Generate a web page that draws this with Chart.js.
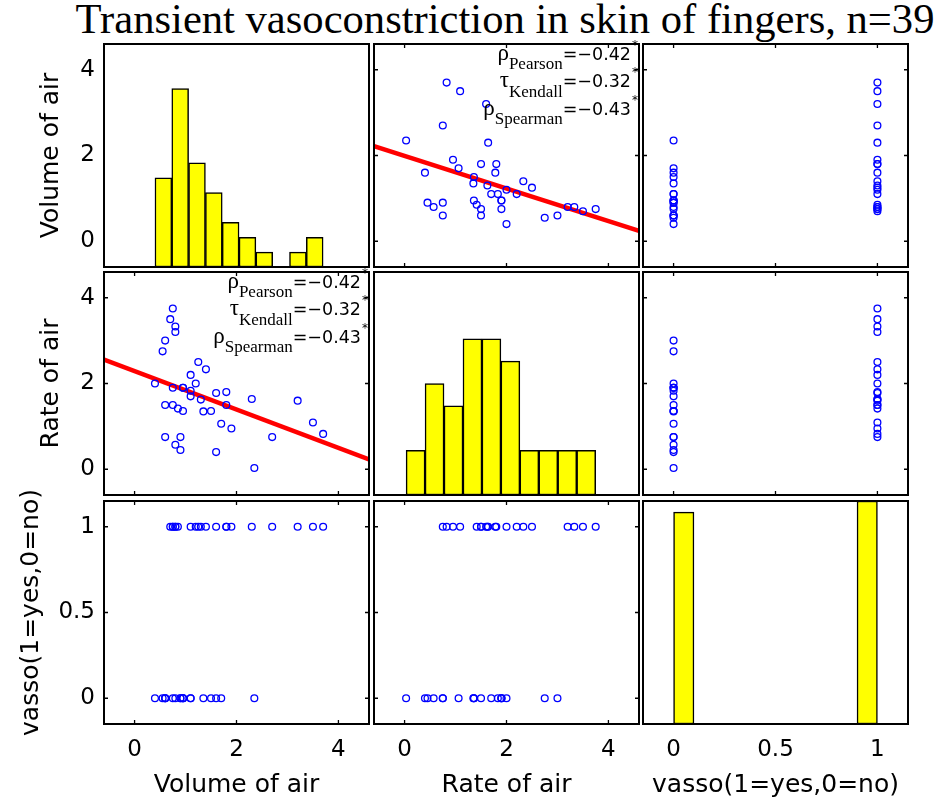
<!DOCTYPE html>
<html>
<head>
<meta charset="utf-8">
<script src="https://cdn.jsdelivr.net/npm/chart.js@4/dist/chart.umd.min.js"></script>
<style>
  html, body { margin: 0; padding: 0; background: #fff; overflow: hidden; }
  #fig { position: relative; width: 944px; height: 798px; }
  #fig canvas { position: absolute; }
  #title {
    position: absolute; left: 5px; width: 1000px; top: -2px;
    text-align: center; white-space: nowrap; color: #000;
    font-family: "Liberation Serif", serif; font-size: 42.6px; line-height: 42px;
  }
</style>
</head>
<body>
<div id="fig">
  <div id="title">Transient vasoconstriction in skin of fingers, n=39</div>
</div>
<script>
// observations, one entry per subject
const volume = [3.70, 3.50, 1.25, 0.75, 0.80, 0.70, 0.60, 1.10, 0.90, 0.90, 0.80, 0.55, 0.60,
  1.40, 0.75, 2.30, 3.20, 0.85, 1.70, 1.80, 0.40, 0.95, 1.35, 1.50, 1.60, 0.60, 1.80, 0.95,
  1.90, 1.60, 2.70, 2.35, 1.10, 1.10, 1.20, 0.80, 0.95, 0.75, 1.30];
const rate = [0.825, 1.09, 2.50, 1.50, 3.20, 3.50, 0.75, 1.70, 0.75, 0.45, 0.57, 2.75, 3.00,
  2.33, 3.75, 1.64, 1.60, 1.415, 1.06, 1.80, 2.00, 1.36, 1.35, 1.36, 1.78, 1.50, 1.50, 1.90,
  0.95, 0.40, 0.75, 0.03, 1.83, 2.20, 2.00, 3.33, 1.90, 1.90, 1.625];
const vasso = [1, 1, 1, 1, 1, 1, 0, 0, 0, 0, 0, 0, 0, 1, 1, 1, 1, 1, 0, 1, 0, 0, 0, 0, 1, 0,
  1, 0, 1, 0, 1, 0, 0, 1, 1, 1, 0, 0, 1];

const varNames = ["Volume of air", "Rate of air", "vasso(1=yes,0=no)"];
const axisMin = [-0.6, -0.6, -0.15];
const axisMax = [4.6, 4.6, 1.15];
const tickValues = [[0, 2, 4], [0, 2, 4], [0, 0.5, 1]];

// histograms on the diagonal
const volBinCenters = [0.565, 0.895, 1.225, 1.555, 1.885, 2.215, 2.545, 2.875, 3.205, 3.535];
const volBinCounts = [6, 12, 7, 5, 3, 2, 1, 0, 1, 2];
const rateBinCenters = [0.216, 0.588, 0.96, 1.332, 1.704, 2.076, 2.448, 2.82, 3.192, 3.564];
const rateBinCounts = [2, 5, 4, 7, 7, 6, 2, 2, 2, 2];
const vassoBinCenters = [0.05, 0.15, 0.25, 0.35, 0.45, 0.55, 0.65, 0.75, 0.85, 0.95];
const vassoBinCounts = [19, 0, 0, 0, 0, 0, 0, 0, 0, 20];
const histMax = [15, 10, 20];

// least squares lines (end points at the axis limits)
const fitVolOnRateX = [-0.6, 4.6];
const fitVolOnRateY = [2.22, 0.24];
const fitRateOnVolX = [-0.6, 4.6];
const fitRateOnVolY = [2.56, 0.23];

const corrSymbols = ["ρ", "τ", "ρ"];
const corrNames = ["Pearson", "Kendall", "Spearman"];
const corrValues = ["=−0.42", "=−0.32", "=−0.43"];

const columns = [volume, rate, vasso];
const bins = [
  [volBinCenters, volBinCounts],
  [rateBinCenters, rateBinCounts],
  [vassoBinCenters, vassoBinCounts],
];
const fits = {
  "0,1": [fitVolOnRateX, fitVolOnRateY],
  "1,0": [fitRateOnVolX, fitRateOnVolY],
};

// figure layout
const colLeft = [104, 374, 643];
const panelW = 265;
const rowTop = [44, 272, 501];
const panelH = 223;
const M = 28;
const figH = 798;
const yTitlePad = [39, 39, 19];

const tickFont = { family: "DejaVu Sans", size: 23 };
const labelFont = { family: "DejaVu Sans", size: 25, lineHeight: 1 };

const boxPlugin = {
  id: "matlabBox",
  afterDatasetsDraw(chart, args, opts) {
    const { ctx, chartArea: a, scales } = chart;
    ctx.save();
    ctx.strokeStyle = "#000";
    if (opts.ticks) {
      const tl = 4;
      ctx.lineWidth = 1.3;
      ctx.beginPath();
      scales.x.ticks.forEach((t) => {
        const px = scales.x.getPixelForValue(t.value);
        ctx.moveTo(px, a.bottom); ctx.lineTo(px, a.bottom - tl);
        ctx.moveTo(px, a.top); ctx.lineTo(px, a.top + tl);
      });
      scales.y.ticks.forEach((t) => {
        const py = scales.y.getPixelForValue(t.value);
        ctx.moveTo(a.left, py); ctx.lineTo(a.left + tl, py);
        ctx.moveTo(a.right, py); ctx.lineTo(a.right - tl, py);
      });
      ctx.stroke();
    }
    ctx.lineWidth = 2;
    ctx.strokeRect(a.left, a.top, a.right - a.left, a.bottom - a.top);
    ctx.restore();
  },
};

const corrPlugin = {
  id: "corrText",
  afterDatasetsDraw(chart, args, opts) {
    if (!opts.show) return;
    const { ctx, chartArea: a } = chart;
    ctx.save();
    ctx.fillStyle = "#000";
    ctx.textBaseline = "alphabetic";
    ctx.textAlign = "left";
    const valFont = '17.5px "DejaVu Sans"';
    const subFont = '17px "Liberation Serif"';
    const greekFont = '23px "Liberation Serif"';
    corrValues.forEach((val, k) => {
      const base = a.top + 16 + k * 27.3;
      ctx.font = valFont;
      const wv = ctx.measureText(val).width;
      ctx.font = subFont;
      const ws = ctx.measureText(corrNames[k]).width;
      ctx.font = greekFont;
      const wg = ctx.measureText(corrSymbols[k]).width;
      const xv = a.right - 8 - wv;
      const xs = xv - ws;
      const xg = xs - wg;
      ctx.font = greekFont;
      ctx.fillText(corrSymbols[k], xg, base);
      ctx.font = subFont;
      ctx.fillText(corrNames[k], xs, base + 9.3);
      ctx.font = valFont;
      ctx.fillText(val, xv, base);
      ctx.font = '12px "DejaVu Sans"';
      ctx.fillText("*", a.right - 7, base - 11);
    });
    ctx.restore();
  },
};

function axisOptions(v, shown, isX, row) {
  const opt = {
    type: "linear",
    min: axisMin[v],
    max: axisMax[v],
    display: shown,
    offset: false,
    grid: { display: false, drawTicks: false },
    border: { display: false },
    ticks: {
      font: tickFont,
      color: "#000",
      padding: isX ? 12 : 9,
      autoSkip: false,
      maxRotation: 0,
      callback: (val) => String(val),
    },
    afterBuildTicks: (s) => {
      s.ticks = tickValues[v].map((t) => ({ value: t }));
    },
    title: {
      display: shown,
      text: varNames[v],
      font: labelFont,
      color: "#000",
      padding: isX ? { top: 0, bottom: 0 } : { top: yTitlePad[row], bottom: 0 },
    },
  };
  if (shown) {
    opt.afterFit = isX
      ? (s) => { s.height = figH - (rowTop[2] + panelH); }
      : (s) => { s.width = colLeft[0]; };
  }
  return opt;
}

const fig = document.getElementById("fig");

for (let i = 0; i < 3; i++) {
  for (let j = 0; j < 3; j++) {
    const left = j === 0 ? 0 : colLeft[j] - M;
    const top = rowTop[i] - M;
    const right = colLeft[j] + panelW + M;
    const bottom = i === 2 ? figH : rowTop[i] + panelH + M;

    const canvas = document.createElement("canvas");
    canvas.width = right - left;
    canvas.height = bottom - top;
    canvas.style.left = left + "px";
    canvas.style.top = top + "px";
    fig.appendChild(canvas);

    const scales = {
      x: axisOptions(j, i === 2, true, i),
      y: axisOptions(i, j === 0, false, i),
    };

    let type, datasets;
    if (i === j) {
      type = "bar";
      scales.yc = { type: "linear", min: 0, max: histMax[i], display: false };
      const [centers, counts] = bins[i];
      datasets = [{
        data: centers.map((c, k) => ({ x: c, y: counts[k] })),
        yAxisID: "yc",
        backgroundColor: "#ffff00",
        borderColor: "#000",
        borderWidth: 1.5,
        borderSkipped: false,
        barPercentage: 1,
        categoryPercentage: 1,
      }];
    } else {
      type = "scatter";
      const xs = columns[j];
      const ys = columns[i];
      datasets = [{
        data: xs.map((x, k) => ({ x: x, y: ys[k] })),
        pointStyle: "circle",
        pointRadius: 3.4,
        borderWidth: 1.3,
        borderColor: "#0000ff",
        backgroundColor: "rgba(0,0,0,0)",
      }];
      const fit = fits[i + "," + j];
      if (fit) {
        datasets.push({
          data: fit[0].map((x, k) => ({ x: x, y: fit[1][k] })),
          showLine: true,
          pointRadius: 0,
          borderColor: "#ff0000",
          borderWidth: 4.5,
        });
      }
    }

    new Chart(canvas, {
      type: type,
      data: { datasets: datasets },
      options: {
        responsive: false,
        animation: false,
        devicePixelRatio: 1,
        events: [],
        layout: {
          padding: { left: j === 0 ? 0 : M, top: M, right: M, bottom: i === 2 ? 0 : M },
        },
        scales: scales,
        plugins: {
          legend: { display: false },
          tooltip: { enabled: false },
          matlabBox: { ticks: i !== j },
          corrText: { show: !!fits[i + "," + j] },
        },
      },
      plugins: [boxPlugin, corrPlugin],
    });
  }
}
</script>
</body>
</html>
